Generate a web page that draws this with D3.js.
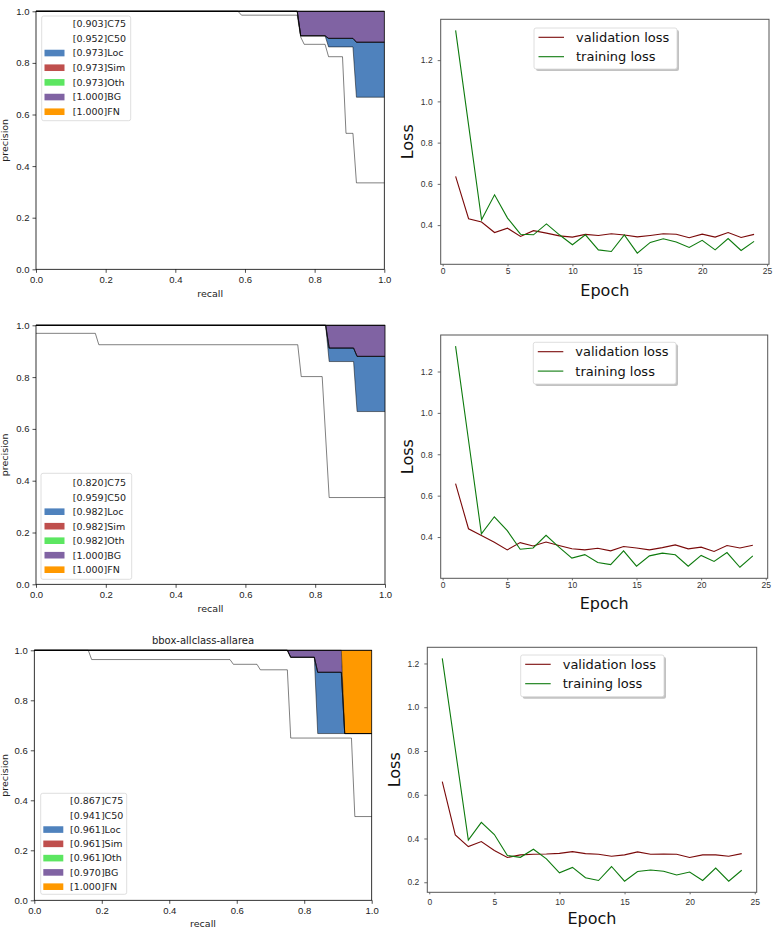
<!DOCTYPE html>
<html lang="en">
<head>
<meta charset="UTF-8">
<title>PR curves and loss</title>
<script src="https://cdn.jsdelivr.net/npm/d3@7"></script>
<style>
    body { margin: 0; background: #fff; }
    svg { display: block; font-family: "DejaVu Sans", sans-serif; }
</style>
</head>
<body>
<div id="chart"></div>
<script>
    // ---- data ----
    const prTypes = ["C75", "C50", "Loc", "Sim", "Oth", "BG", "FN"]
    const prColors = ["#ffffff", "#ffffff", "#4f82bd", "#bf4f4d", "#5ce661", "#8063a3", "#ff9900"]
    const prTicks = [0, 0.2, 0.4, 0.6, 0.8, 1.0]

    const aps1 = [0.903, 0.952, 0.973, 0.973, 0.973, 1.000, 1.000]
    const aps2 = [0.820, 0.959, 0.982, 0.982, 0.982, 1.000, 1.000]
    const aps3 = [0.867, 0.941, 0.961, 0.961, 0.961, 0.970, 1.000]

    // [recall, precision] break points
    const full = [[0, 1], [1, 1]]

    const pr1C75 = [[0, 1], [0.58, 1], [0.59, 0.985], [0.75, 0.985], [0.76, 0.90], [0.77, 0.872], [0.83, 0.872],
        [0.84, 0.824], [0.88, 0.824], [0.89, 0.527], [0.91, 0.527], [0.92, 0.335], [1, 0.335]]
    const pr1C50 = [[0, 1], [0.75, 1], [0.76, 0.905], [0.83, 0.905], [0.84, 0.862], [0.91, 0.862], [0.92, 0.667], [1, 0.667]]
    const pr1Loc = [[0, 1], [0.75, 1], [0.76, 0.905], [0.83, 0.905], [0.84, 0.895], [0.91, 0.895], [0.92, 0.88], [1, 0.88]]

    const pr2C75 = [[0, 0.969], [0.17, 0.969], [0.18, 0.925], [0.75, 0.925], [0.76, 0.802], [0.82, 0.802], [0.84, 0.335], [1, 0.335]]
    const pr2C50 = [[0, 1], [0.83, 1], [0.84, 0.86], [0.91, 0.86], [0.92, 0.667], [1, 0.667]]
    const pr2Loc = [[0, 1], [0.83, 1], [0.84, 0.912], [0.91, 0.912], [0.92, 0.88], [1, 0.88]]

    const pr3C75 = [[0, 1], [0.16, 1], [0.17, 0.963], [0.58, 0.963], [0.59, 0.944], [0.66, 0.944], [0.67, 0.922],
        [0.75, 0.922], [0.76, 0.649], [0.94, 0.649], [0.95, 0.335], [1, 0.335]]
    const pr3C50 = [[0, 1], [0.75, 1], [0.76, 0.972], [0.83, 0.972], [0.84, 0.667], [1, 0.667]]
    const pr3Loc = [[0, 1], [0.75, 1], [0.76, 0.972], [0.83, 0.972], [0.84, 0.912], [0.91, 0.912], [0.92, 0.667], [1, 0.667]]
    const pr3BG = [[0, 1], [0.91, 1], [0.92, 0.667], [1, 0.667]]

    const epochs = [1, 2, 3, 4, 5, 6, 7, 8, 9, 10, 11, 12, 13, 14, 15, 16, 17, 18, 19, 20, 21, 22, 23, 24]
    const epochTicks = [0, 5, 10, 15, 20, 25]
    const lossTicks = [0.2, 0.4, 0.6, 0.8, 1.0, 1.2]

    const valLoss1 = [0.636, 0.431, 0.415, 0.364, 0.385, 0.345, 0.373, 0.361, 0.348, 0.342, 0.355, 0.350,
        0.358, 0.352, 0.343, 0.350, 0.358, 0.356, 0.339, 0.356, 0.342, 0.364, 0.340, 0.355]
    const trainLoss1 = [1.344, 0.885, 0.426, 0.547, 0.434, 0.356, 0.353, 0.406, 0.353, 0.305, 0.353, 0.280,
        0.272, 0.352, 0.264, 0.316, 0.334, 0.318, 0.292, 0.326, 0.280, 0.335, 0.277, 0.321]

    const valLoss2 = [0.658, 0.440, 0.407, 0.375, 0.338, 0.373, 0.357, 0.376, 0.359, 0.343, 0.338, 0.346,
        0.333, 0.354, 0.347, 0.338, 0.349, 0.362, 0.343, 0.351, 0.330, 0.359, 0.347, 0.360]
    const trainLoss2 = [1.323, 0.869, 0.415, 0.498, 0.431, 0.341, 0.347, 0.408, 0.351, 0.298, 0.315, 0.277,
        0.267, 0.333, 0.259, 0.309, 0.322, 0.314, 0.259, 0.311, 0.282, 0.325, 0.254, 0.309]

    const valLoss3 = [0.660, 0.416, 0.363, 0.386, 0.345, 0.313, 0.325, 0.328, 0.329, 0.332, 0.340, 0.331,
        0.328, 0.319, 0.325, 0.339, 0.328, 0.329, 0.328, 0.313, 0.325, 0.325, 0.319, 0.331]
    const trainLoss3 = [1.223, 0.808, 0.393, 0.474, 0.418, 0.322, 0.314, 0.351, 0.307, 0.243, 0.268, 0.221,
        0.208, 0.272, 0.205, 0.249, 0.256, 0.250, 0.233, 0.247, 0.208, 0.265, 0.205, 0.255]

    // ---- drawing ----
    const svg = d3.select("#chart").append("svg")
        .attr("width", 773)
        .attr("height", 928)

    function drawPR(cfg) {
        const g = svg.append("g")
        const x = d3.scaleLinear().domain([0, 1]).range([cfg.left, cfg.right])
        const y = d3.scaleLinear().domain([0, 1]).range([cfg.bottom, cfg.top])
        const line = d3.line().x(d => x(d[0])).y(d => y(d[1]))

        // fill between consecutive curves, like fill_between(rs, ps[k], ps[k+1])
        let prev = [[0, 0], [1, 0]]
        cfg.curves.forEach((c, k) => {
            g.append("path")
                .attr("d", line(c.concat(prev.slice().reverse())) + "Z")
                .attr("fill", prColors[k])
            prev = c
        })
        cfg.curves.forEach(c => {
            g.append("path")
                .attr("d", line(c))
                .attr("fill", "none")
                .attr("stroke", "#000")
                .attr("stroke-width", 0.5)
        })

        const xAxis = g.append("g")
            .attr("transform", `translate(0,${cfg.bottom})`)
            .call(d3.axisBottom(x).tickValues(prTicks).tickFormat(d3.format(".1f")).tickSize(3.5).tickPadding(3))
        const yAxis = g.append("g")
            .attr("transform", `translate(${cfg.left},0)`)
            .call(d3.axisLeft(y).tickValues(prTicks).tickFormat(d3.format(".1f")).tickSize(3.5).tickPadding(3))
        for (const ax of [xAxis, yAxis]) {
            ax.select(".domain").remove()
            ax.selectAll("text").style("font-size", "9.5px").attr("fill", "#222")
            ax.selectAll("line").attr("stroke", "#222").attr("stroke-width", 0.8)
        }

        g.append("rect")
            .attr("x", cfg.left).attr("y", cfg.top)
            .attr("width", cfg.right - cfg.left).attr("height", cfg.bottom - cfg.top)
            .attr("fill", "none").attr("stroke", "#000").attr("stroke-width", 0.8)

        g.append("text")
            .attr("x", (cfg.left + cfg.right) / 2).attr("y", cfg.xLabelY)
            .attr("text-anchor", "middle").attr("dy", "0.35em")
            .style("font-size", "9.5px").attr("fill", "#222")
            .text("recall")
        g.append("text")
            .attr("transform", `translate(${cfg.yLabelX},${(cfg.top + cfg.bottom) / 2}) rotate(-90)`)
            .attr("text-anchor", "middle").attr("dy", "0.35em")
            .style("font-size", "9.5px").attr("fill", "#222")
            .text("precision")

        if (cfg.title) {
            g.append("text")
                .attr("x", (cfg.left + cfg.right) / 2).attr("y", cfg.top - 10)
                .attr("text-anchor", "middle").attr("dy", "0.35em")
                .style("font-size", "10px").attr("fill", "#222")
                .text(cfg.title)
        }

        // legend
        const L = cfg.legend
        g.append("rect")
            .attr("x", L.x).attr("y", L.y).attr("width", L.w).attr("height", L.h)
            .attr("rx", 2).attr("fill", "#fff").attr("fill-opacity", 0.8)
            .attr("stroke", "#d6d6d6").attr("stroke-width", 0.8)
        prTypes.forEach((t, k) => {
            const ry = L.row0 + k * L.step
            g.append("rect")
                .attr("x", L.patchX).attr("y", ry - 3.3)
                .attr("width", 20).attr("height", 6.6)
                .attr("fill", prColors[k])
            g.append("text")
                .attr("x", L.textX).attr("y", ry).attr("dy", "0.35em")
                .style("font-size", "9.5px").attr("fill", "#222")
                .text(`[${cfg.aps[k].toFixed(3)}]${t}`)
        })
    }

    function drawLoss(cfg) {
        const g = svg.append("g")
        const n = epochs.length
        const pad = (epochs[n - 1] - epochs[0]) * 0.05
        const x = d3.scaleLinear()
            .domain([epochs[0] - pad, epochs[n - 1] + pad])
            .range([cfg.left, cfg.right])
        const ext = d3.extent(cfg.val.concat(cfg.train))
        const ypad = (ext[1] - ext[0]) * 0.05
        const y = d3.scaleLinear()
            .domain([ext[0] - ypad, ext[1] + ypad])
            .range([cfg.bottom, cfg.top])

        const line = d3.line().x((d, i) => x(epochs[i])).y(d => y(d))
        g.append("path").attr("d", line(cfg.val))
            .attr("fill", "none").attr("stroke", "#7a0a0a").attr("stroke-width", 1.1)
        g.append("path").attr("d", line(cfg.train))
            .attr("fill", "none").attr("stroke", "#0d7a0d").attr("stroke-width", 1.1)

        const xAxis = g.append("g")
            .attr("transform", `translate(0,${cfg.bottom})`)
            .call(d3.axisBottom(x).tickValues(epochTicks).tickSize(2).tickPadding(cfg.xPad))
        const yAxis = g.append("g")
            .attr("transform", `translate(${cfg.left},0)`)
            .call(d3.axisLeft(y).tickValues(lossTicks.filter(v => v >= y.domain()[0])).tickFormat(d3.format(".1f")).tickSize(3).tickPadding(5))
        for (const ax of [xAxis, yAxis]) {
            ax.select(".domain").remove()
            ax.selectAll("text").style("font-size", "8.5px").attr("fill", "#333")
            ax.selectAll("line").attr("stroke", "#444").attr("stroke-width", 0.8)
        }

        g.append("rect")
            .attr("x", cfg.left).attr("y", cfg.top)
            .attr("width", cfg.right - cfg.left).attr("height", cfg.bottom - cfg.top)
            .attr("fill", "none").attr("stroke", "#555").attr("stroke-width", 1)

        g.append("text")
            .attr("x", (cfg.left + cfg.right) / 2).attr("y", cfg.xLabelY)
            .attr("text-anchor", "middle").attr("dy", "0.35em")
            .style("font-size", "16px").attr("fill", "#111")
            .text("Epoch")
        g.append("text")
            .attr("transform", `translate(${cfg.yLabelX},${(cfg.top + cfg.bottom) / 2}) rotate(-90)`)
            .attr("text-anchor", "middle").attr("dy", "0.35em")
            .style("font-size", "16px").attr("fill", "#111")
            .text("Loss")

        const L = cfg.legend
        g.append("rect")
            .attr("x", L.x + 2).attr("y", L.y + 2).attr("width", L.w).attr("height", L.h)
            .attr("rx", 2).attr("fill", "#999").attr("fill-opacity", 0.6)
        g.append("rect")
            .attr("x", L.x).attr("y", L.y).attr("width", L.w).attr("height", L.h)
            .attr("rx", 2).attr("fill", "#fff")
            .attr("stroke", "#d6d6d6").attr("stroke-width", 0.8)
        const items = [["validation loss", "#7a0a0a"], ["training loss", "#0d7a0d"]]
        items.forEach((it, k) => {
            const ry = L.row0 + k * 19.4
            g.append("line")
                .attr("x1", L.x + 4.5).attr("x2", L.x + 30)
                .attr("y1", ry).attr("y2", ry)
                .attr("stroke", it[1]).attr("stroke-width", 1.1)
            g.append("text")
                .attr("x", L.x + 42).attr("y", ry).attr("dy", "0.35em")
                .style("font-size", "13px").attr("fill", "#111")
                .text(it[0])
        })
    }

    drawPR({
        left: 36, right: 384.3, top: 11.3, bottom: 269.3,
        xLabelY: 294, yLabelX: 5,
        curves: [pr1C75, pr1C50, pr1Loc, pr1Loc, pr1Loc, full, full], aps: aps1,
        legend: {x: 41.7, y: 16, w: 89, h: 104.7, row0: 23.7, step: 14.67, patchX: 44.5, textX: 72.7}
    })
    drawPR({
        left: 36, right: 385, top: 325.3, bottom: 584.3,
        xLabelY: 608.3, yLabelX: 5,
        curves: [pr2C75, pr2C50, pr2Loc, pr2Loc, pr2Loc, full, full], aps: aps2,
        legend: {x: 41, y: 473.3, w: 90.7, h: 106, row0: 482.7, step: 14.5, patchX: 44.5, textX: 72.7}
    })
    drawPR({
        left: 34.3, right: 371.7, top: 650.3, bottom: 900.3,
        xLabelY: 923.3, yLabelX: 4.7, title: "bbox-allclass-allarea",
        curves: [pr3C75, pr3C50, pr3Loc, pr3Loc, pr3Loc, pr3BG, full], aps: aps3,
        legend: {x: 40.7, y: 793.3, w: 86, h: 101, row0: 801, step: 14.28, patchX: 43.3, textX: 70}
    })

    drawLoss({
        left: 440.7, right: 769, top: 19.3, bottom: 264.3, xPad: 1.5,
        xLabelY: 290, yLabelX: 407,
        val: valLoss1, train: trainLoss1,
        legend: {x: 534, y: 28, w: 143, h: 41, row0: 37.3}
    })
    drawLoss({
        left: 440.7, right: 767.7, top: 335, bottom: 578.3, xPad: 1.5,
        xLabelY: 603.3, yLabelX: 407,
        val: valLoss2, train: trainLoss2,
        legend: {x: 533.3, y: 342.3, w: 142.7, h: 41.7, row0: 351.7}
    })
    drawLoss({
        left: 427.3, right: 756.7, top: 647.3, bottom: 892.3, xPad: 5,
        xLabelY: 918, yLabelX: 394,
        val: valLoss3, train: trainLoss3,
        legend: {x: 520.7, y: 655, w: 143.3, h: 41.7, row0: 664.3}
    })
</script>
</body>
</html>
